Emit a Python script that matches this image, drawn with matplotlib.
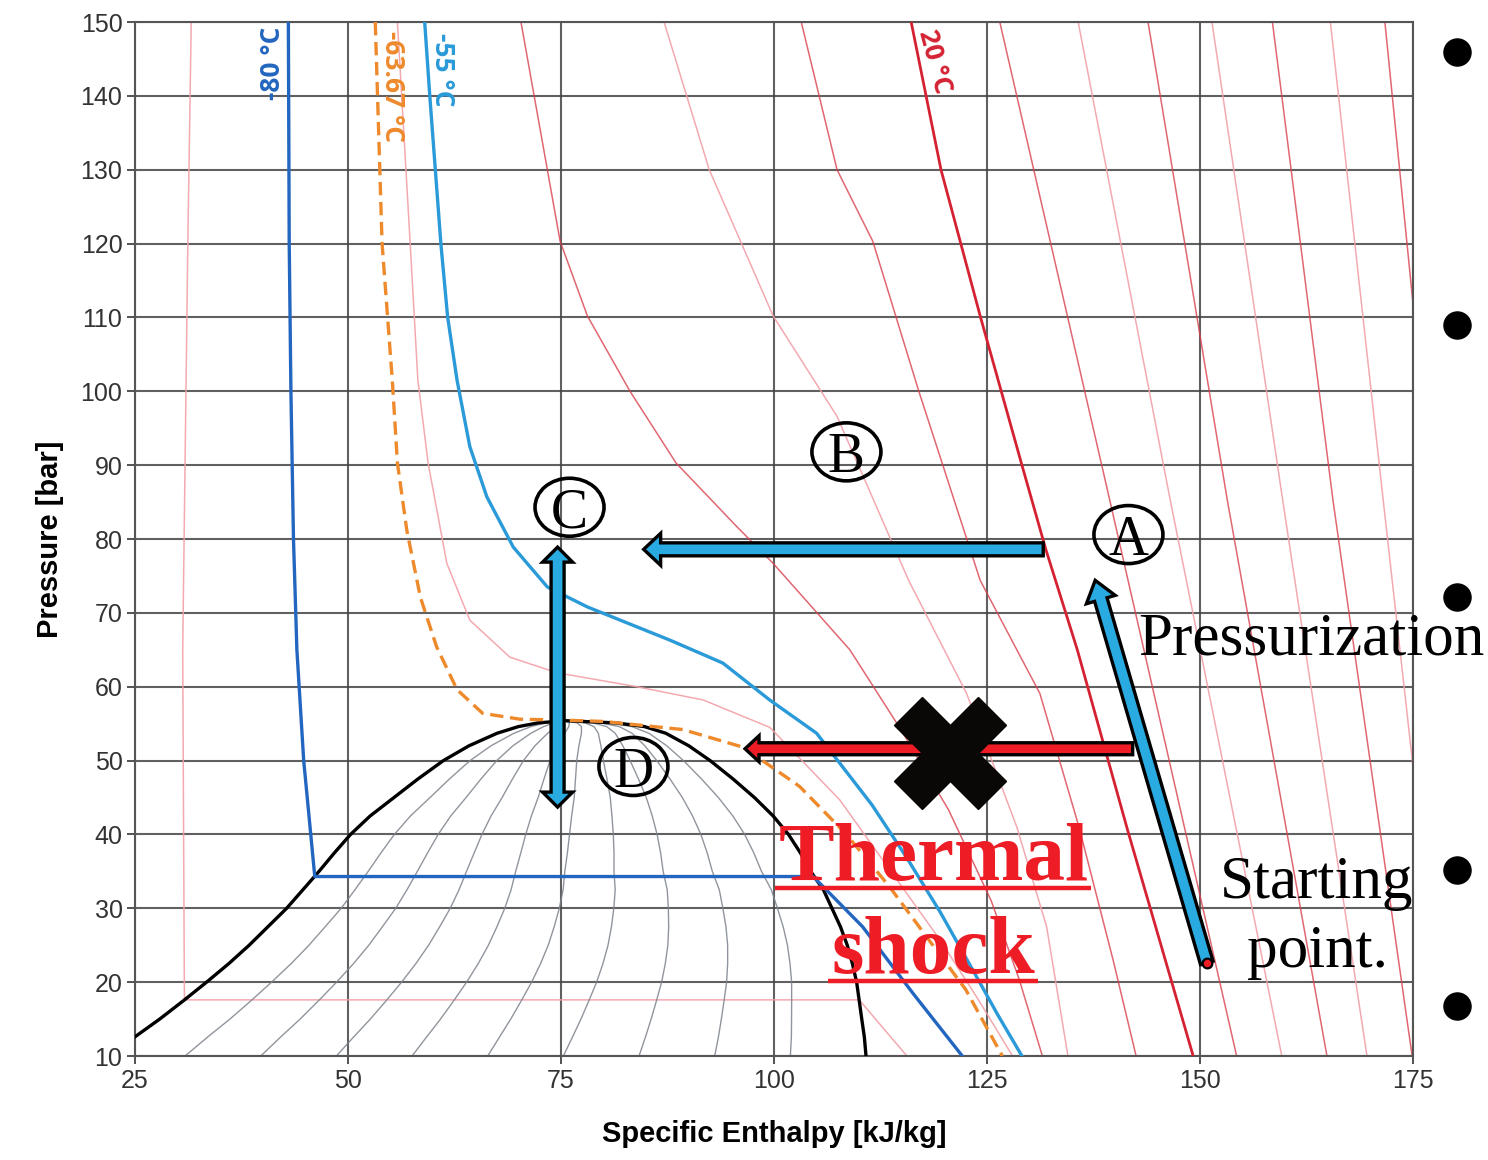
import numpy as np
import matplotlib
matplotlib.use('Agg')
import matplotlib.pyplot as plt
from matplotlib.patches import Polygon, Ellipse
from matplotlib.lines import Line2D

plt.rcParams['font.family'] = ['Liberation Sans Narrow', 'Liberation Sans', 'DejaVu Sans']

#- saturation dome : pressure [bar], liquid / vapour enthalpy [kJ/kg]
dome_p  = [10, 12.6, 15, 17.5, 20, 22.5, 25, 27.5, 30, 32.5, 35, 37.5, 40, 42.5,
           45, 47.5, 50, 52, 53.7, 54.6, 55.1, 55.4]
dome_hl = [22.0, 25.0, 27.9, 30.7, 33.4, 36.0, 38.4, 40.6, 42.8, 44.7, 46.6, 48.4, 50.3, 52.6,
           55.4, 58.2, 61.2, 64.2, 67.5, 70.0, 72.3, 75.5]
dome_hv = [110.8, 110.6, 110.3, 110.0, 109.7, 109.2, 108.6, 107.8, 106.8, 105.8, 104.3, 103.1,
           101.7, 99.9, 97.7, 95.2, 92.5, 90.0, 87.3, 84.8, 81.5, 75.5]
quality = [0.1, 0.2, 0.3, 0.4, 0.5, 0.6, 0.7, 0.8, 0.9]

#- labelled isotherms
t_m80_h = [43.0, 43.1, 43.3, 43.6, 44.0, 44.8, 46.1, 104.6, 110.4, 116.3, 122.1]
t_m80_p = [150, 120, 100, 80, 65, 50, 34.3, 34.3, 27.5, 18.5, 10]

t_crit_h = [53.2, 54.0, 55.2, 55.8, 56.9, 58.5, 60.4, 62.8, 65.8, 70.2, 74.5, 80.0,
            89.3, 96.4, 103.0, 108.5, 113.5, 118.0, 122.5, 126.8]
t_crit_p = [150, 120, 101.5, 90.3, 81.2, 72.1, 65.4, 59.6, 56.4, 55.6, 55.5, 55.3,
            54.2, 51.8, 46.5, 40, 33, 26, 19, 10]

t_m55_h = [59.0, 59.6, 60.9, 61.7, 62.8, 64.3, 66.3, 69.4, 73.4, 78.1, 87.8, 94.0, 99.5,
           105.0, 111.5, 115.5, 119.5, 123.4, 126.3, 129.1]
t_m55_p = [150, 140, 120, 110, 101.5, 92.5, 85.7, 78.9, 73.5, 70.8, 66.3, 63.2, 58.2,
           53.7, 44, 37, 29.5, 21.5, 15.5, 10]

t_20_h = [116.1, 119.6, 124.2, 129.1, 131.9, 135.6, 141.5, 149.2]
t_20_p = [150, 130, 110.2, 90.0, 78.6, 65.0, 40.6, 10]

#- unlabelled isotherms (h, p, dark?)
iso_bg = [
    ([31.6, 31.2, 30.6, 30.8, 110.0, 115.6], [150, 120, 65, 17.6, 17.6, 10], False),
    ([55.8, 57.3, 58.2, 59.4, 61.6, 64.3, 69.0, 74.5, 83.9, 91.7, 99.5, 107.7, 113.6, 119.5, 124.0, 128.0],
     [150, 120, 101.5, 90.3, 76.7, 69, 64, 61.9, 60, 58.2, 54.5, 44.7, 35.2, 25.7, 17.6, 10], False),
    ([70.3, 74.9, 78.1, 83.1, 88.5, 95.7, 99.9, 108.9, 115.0, 120.5, 125.5, 128.8, 131.5],
     [150, 120.3, 110.2, 100, 90.3, 81.6, 76.7, 65, 54, 43.3, 31, 20.3, 10], True),
    ([87.1, 92.4, 99.9, 107.4, 115.8, 122.6, 128.5, 132.0, 134.5],
     [150, 130, 110.2, 96.6, 74.4, 59.1, 41, 27.5, 10], False),
    ([103.2, 107.4, 111.6, 117.0, 124.2, 131.2, 135.8, 139.8, 142.5],
     [150, 130, 120.3, 100, 74.4, 59.1, 41, 23, 10], True),
    ([126.5, 139.4, 154.3], [150, 85.3, 10], True),
    ([135.7, 146.5, 159.6], [150, 85.3, 10], False),
    ([143.9, 153.2, 164.9], [150, 85.3, 10], True),
    ([151.4, 159.7, 169.6], [150, 85.3, 10], False),
    ([158.5, 165.6, 174.9], [150, 85.3, 10], True),
    ([165.3, 171.5, 178.8], [150, 85.3, 10], False),
    ([171.7, 177.3, 184.0], [150, 85.3, 10], True),
]

#- process path
press_start = (150.8, 22.6)
press_end = (137.7, 74.4)
b_from, b_to = (131.6, 78.6), (84.7, 78.6)
c_h, c_bottom, c_top = 74.6, 43.7, 78.9
shock_from, shock_to = (142.1, 51.6), (96.6, 51.6)
x_mark = (120.7, 51.0)
circ_labels = ['A', 'B', 'C', 'D']
circ_h = [141.6, 108.5, 76.0, 83.5]
circ_p = [80.6, 91.8, 84.3, 49.2]

fig = plt.figure(figsize=(14.88, 11.60), dpi=100)
ax = fig.add_axes([135/1488, 1-1056/1160, 1278/1488, 1034/1160])
ax.set_xlim(25, 175)
ax.set_ylim(10, 150)
ax.set_xticks(np.arange(25, 176, 25))
ax.set_yticks(np.arange(10, 151, 10))
ax.grid(True, color='#444444', lw=1.5, alpha=0.85)
ax.set_axisbelow(True)
for s in ax.spines.values():
    s.set_color('#555555')
    s.set_linewidth(1.5)
ax.tick_params(direction='out', length=6, width=1.3, color='#444444',
               labelsize=18, labelcolor='#333333', pad=3)
ax.set_xlabel('Specific Enthalpy [kJ/kg]', fontsize=21, fontweight='bold', labelpad=20)
ax.set_ylabel('Pressure [bar]', fontsize=21, fontweight='bold', labelpad=12)

# background isotherms
for h, p, dark in iso_bg:
    if dark:
        ax.plot(h, p, color='#d9414e', lw=1.1, alpha=0.8, zorder=1)
    else:
        ax.plot(h, p, color='#f2a0a8', lw=1.1, alpha=0.9, zorder=1)

# constant quality lines inside the dome
hl = np.array(dome_hl)
hv = np.array(dome_hv)
for q in quality:
    ax.plot(hl + q*(hv-hl), dome_p, color='#7d838c', lw=1.0, alpha=0.85, zorder=1.5)

ax.plot(dome_hl + dome_hv[::-1], dome_p + dome_p[::-1], color='black', lw=2.4, zorder=3)

ax.plot(t_m80_h, t_m80_p, color='#2366bf', lw=2.4, zorder=3)
ax.plot(t_m55_h, t_m55_p, color='#2a9ad8', lw=2.4, zorder=3)
ax.plot(t_crit_h, t_crit_p, color='#ee8a2c', lw=2.4, dashes=(4, 2), zorder=3.2)
ax.plot(t_20_h, t_20_p, color='#d42233', lw=2.0, zorder=3)

lab = dict(family=['Open Sans', 'DejaVu Sans'], fontsize=19, fontweight='bold',
           ha='center', va='center')
ax.text(41.1, 144.4, '-80 °C', color='#2366bf', rotation=90, **lab)
ax.text(55.2, 141.3, '-63.67 °C', color='#ee8a2c', rotation=-90, **lab)
ax.text(61.15, 143.5, '-55 °C', color='#2a9ad8', rotation=-90, **lab)
ax.text(118.9, 144.6, '20 °C', color='#d42233', rotation=-75, **lab)


def arrow_poly(start, end, body, head_w, head_len, both=False):
    # outline of a block arrow, sizes given in pixels
    p0 = ax.transData.transform(start)
    p1 = ax.transData.transform(end)
    d = p1 - p0
    u = d/np.hypot(*d)
    n = np.array([-u[1], u[0]])
    hb, hw = body/2, head_w/2
    if both:
        pts = [p0, p0+u*head_len+n*hw, p0+u*head_len+n*hb, p1-u*head_len+n*hb,
               p1-u*head_len+n*hw, p1, p1-u*head_len-n*hw, p1-u*head_len-n*hb,
               p0+u*head_len-n*hb, p0+u*head_len-n*hw]
    else:
        pts = [p0+n*hb, p1-u*head_len+n*hb, p1-u*head_len+n*hw, p1,
               p1-u*head_len-n*hw, p1-u*head_len-n*hb, p0-n*hb]
    return ax.transData.inverted().transform(np.array(pts))


blue = '#29abe2'
ax.add_patch(Polygon(arrow_poly(press_start, press_end, 13, 30, 20), closed=True,
                     fc=blue, ec='black', lw=2.4, joinstyle='miter', zorder=5))
ax.add_patch(Polygon(arrow_poly(b_from, b_to, 13, 32, 17), closed=True,
                     fc=blue, ec='black', lw=2.4, joinstyle='miter', zorder=5))
ax.add_patch(Polygon(arrow_poly((c_h, c_bottom), (c_h, c_top), 13, 30, 15, both=True),
                     closed=True, fc=blue, ec='black', lw=2.4, joinstyle='miter', zorder=5))
ax.add_patch(Polygon(arrow_poly(shock_from, shock_to, 12, 26, 14), closed=True,
                     fc='#ee1c25', ec='black', lw=2.4, joinstyle='miter', zorder=5))
ax.plot(*x_mark, marker='X', ms=80, color='#0a0806', zorder=6)
ax.plot(*press_start, 'o', ms=7, mfc='#ee1c25', mec='black', mew=1.6, zorder=6)

for s, h, p in zip(circ_labels, circ_h, circ_p):
    ax.add_patch(Ellipse((h, p), 69/8.52, 58/7.386, fill=False, ec='black', lw=2.6, zorder=7))
    ax.annotate(s, (h, p), xytext=(0, -14.5), textcoords='offset points', ha='center',
                va='baseline', family='Liberation Serif', fontsize=40, zorder=7)

serif = dict(family='Liberation Serif', fontsize=44, va='baseline', zorder=7)
ax.text(142.7, 64.3, 'Pressurization', ha='left', **serif)
ax.text(163.7, 31.4, 'Starting', ha='center', **serif)
ax.text(163.8, 22.05, 'point.', ha='center', **serif)

shock_txt = []
for s, p in [('Thermal', 33.8), ('shock', 21.3)]:
    t = ax.text(118.7, p, s, ha='center', va='baseline', family='Liberation Serif',
                fontsize=60, fontweight='bold', color='#ee1c25', zorder=7)
    shock_txt.append((t, p))

fig.canvas.draw()
rend = fig.canvas.get_renderer()
for t, p in shock_txt:
    bb = t.get_window_extent(rend)
    yb = ax.transData.transform((0, p))[1] - 8
    (x0, y0), (x1, _) = ax.transData.inverted().transform([(bb.x0 - 3, yb), (bb.x1 + 3, yb)])
    ax.plot([x0, x1], [y0, y0], color='#ee1c25', lw=3.2, solid_capstyle='butt',
            clip_on=False, zorder=7)

for yp in [52, 325, 597, 870, 1006]:
    fig.add_artist(Line2D([1457/1488], [1-yp/1160], marker='o', ms=19.5, color='black',
                          transform=fig.transFigure))

plt.savefig('out.png', dpi=100)
